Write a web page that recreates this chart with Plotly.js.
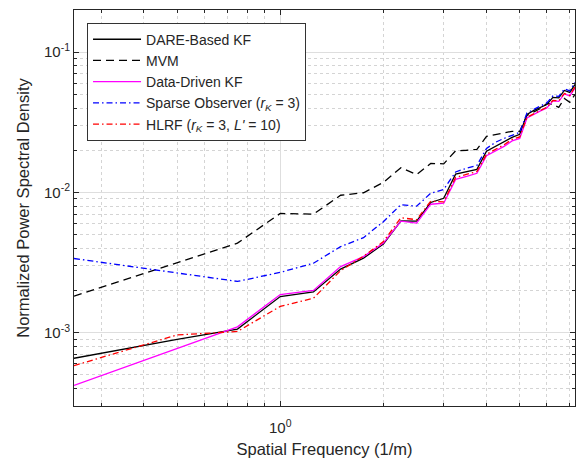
<!DOCTYPE html>
<html>
<head>
<meta charset="utf-8">
<script src="https://cdn.plot.ly/plotly-3.0.1.min.js"></script>
<style>html,body{margin:0;padding:0;background:#fff;}#chart{width:578px;height:461px;}</style>
</head>
<body>
<div id="chart"></div>
<script>
// Spatial frequency (1/m)
const freq = [0.25, 0.5, 0.75, 1.0, 1.25, 1.5, 1.75, 2.0, 2.25, 2.5, 2.75, 3.0, 3.25, 3.5, 3.75,
              4.0, 4.25, 4.5, 4.75, 5.0, 5.25, 5.5, 5.75, 6.0, 6.25, 6.5, 6.75, 7.0, 7.25];

const dareKF = [0.000657, 0.000897, 0.00106, 0.00181, 0.00195, 0.00284, 0.00340, 0.00428, 0.00627, 0.00624,
                0.00848, 0.00909, 0.0135, 0.0141, 0.0146, 0.0197, 0.0213, 0.0228, 0.0247, 0.0260,
                0.0360, 0.0385, 0.0404, 0.0424, 0.0476, 0.0472, 0.0534, 0.0517, 0.0589];

const mvm = [0.00182, 0.00316, 0.00435, 0.00708, 0.00700, 0.00955, 0.00995, 0.0118, 0.0150, 0.0134,
             0.0161, 0.0160, 0.0198, 0.0200, 0.0203, 0.0251, 0.0260, 0.0266, 0.0273, 0.0273,
             0.0354, 0.0378, 0.0397, 0.0431, 0.0424, 0.0404, 0.0468, 0.0439, 0.0500];

const dataDrivenKF = [0.000421, 0.000768, 0.00110, 0.00187, 0.00200, 0.00296, 0.00349, 0.00435, 0.00624, 0.00604,
                      0.00824, 0.00838, 0.0124, 0.0130, 0.0137, 0.0183, 0.0198, 0.0213, 0.0233, 0.0243,
                      0.0340, 0.0363, 0.0382, 0.0401, 0.0450, 0.0446, 0.0504, 0.0488, 0.0556];

const sparseObs = [0.00338, 0.00266, 0.00232, 0.00269, 0.00313, 0.00411, 0.00476, 0.00619, 0.00818, 0.00798,
                   0.00987, 0.0105, 0.0140, 0.0149, 0.0156, 0.0206, 0.0228, 0.0243, 0.0257, 0.0268,
                   0.0369, 0.0394, 0.0414, 0.0435, 0.0488, 0.0484, 0.0547, 0.0530, 0.0609];

const hlrf = [0.000582, 0.000963, 0.00102, 0.00154, 0.00176, 0.00277, 0.00351, 0.00446, 0.00660, 0.00639,
              0.00866, 0.00856, 0.0128, 0.0135, 0.0141, 0.0187, 0.0203, 0.0219, 0.0239, 0.0249,
              0.0343, 0.0366, 0.0385, 0.0404, 0.0453, 0.0450, 0.0508, 0.0492, 0.0565];

const seriesNames = [
  'DARE-Based KF',
  'MVM',
  'Data-Driven KF',
  'Sparse Observer (<i>r</i><sub><i>K</i></sub> = 3)',
  'HLRF (<i>r</i><sub><i>K</i></sub> = 3, <i>L\'</i> = 10)'
];

const yTickVals = [0.001, 0.01, 0.1];
const yTickText = ['10<sup>-3</sup>', '10<sup>-2</sup>', '10<sup>-1</sup>'];
const xTickVals = [1];
const xTickText = ['10<sup>0</sup>'];
const xMinor = [0.3, 0.4, 0.5, 0.6, 0.7, 0.8, 0.9, 2, 3, 4, 5, 6, 7];
const yMinor = [0.0004, 0.0005, 0.0006, 0.0007, 0.0008, 0.0009,
                0.002, 0.003, 0.004, 0.005, 0.006, 0.007, 0.008, 0.009,
                0.02, 0.03, 0.04, 0.05, 0.06, 0.07, 0.08, 0.09, 0.2];

const dashDot = '6px,3px,1.5px,3px';
const traces = [
  {y: dareKF, color: '#000000', dash: 'solid'},
  {y: mvm, color: '#000000', dash: '8px,5px'},
  {y: dataDrivenKF, color: '#ff00ff', dash: 'solid'},
  {y: sparseObs, color: '#0000ff', dash: dashDot},
  {y: hlrf, color: '#ff0000', dash: dashDot}
].map((s, i) => ({
  x: freq, y: s.y, type: 'scatter', mode: 'lines', name: seriesNames[i],
  line: {color: s.color, width: 1.3, dash: s.dash}
}));

const fam = 'Liberation Sans, Arial, sans-serif';
const axisCommon = {
  type: 'log',
  showline: true, linecolor: '#262626', linewidth: 1, mirror: 'allticks',
  ticks: 'inside', ticklen: 5, tickcolor: '#262626',
  showgrid: true, gridcolor: '#dedede', gridwidth: 1,
  zeroline: false,
  tickfont: {family: fam, size: 15, color: '#262626'},
  tickmode: 'array'
};

const layout = {
  width: 578, height: 461,
  margin: {l: 74, r: 3, t: 10, b: 55},
  paper_bgcolor: '#ffffff', plot_bgcolor: '#ffffff',
  font: {family: fam, color: '#262626'},
  showlegend: true,
  legend: {
    x: 0.026, y: 0.968, xanchor: 'left', yanchor: 'top',
    bgcolor: '#ffffff', bordercolor: '#333333', borderwidth: 1,
    font: {family: fam, size: 14, color: '#262626'},
    itemwidth: 48,
    tracegroupgap: 0
  },
  xaxis: Object.assign({}, axisCommon, {
    range: [Math.log10(0.25), Math.log10(7.25)],
    tickvals: xTickVals, ticktext: xTickText,
    ticklabelstandoff: 8,
    title: {text: 'Spatial Frequency (1/m)', font: {family: fam, size: 16.5, color: '#262626'}, standoff: 8},
    minor: {tickmode: 'array', tickvals: xMinor, showgrid: true, gridcolor: '#d4d4d4', griddash: 'dot', gridwidth: 1, ticks: 'inside', ticklen: 3, tickcolor: '#262626'}
  }),
  yaxis: Object.assign({}, axisCommon, {
    range: [Math.log10(0.0003), Math.log10(0.2)],
    tickvals: yTickVals, ticktext: yTickText,
    title: {text: 'Normalized Power Spectral Density', font: {family: fam, size: 16.5, color: '#262626'}, standoff: 10},
    minor: {tickmode: 'array', tickvals: yMinor, showgrid: true, gridcolor: '#d4d4d4', griddash: 'dot', gridwidth: 1, ticks: 'inside', ticklen: 3, tickcolor: '#262626'}
  })
};

Plotly.newPlot('chart', traces, layout, {displayModeBar: false, staticPlot: true});
</script>
</body>
</html>
